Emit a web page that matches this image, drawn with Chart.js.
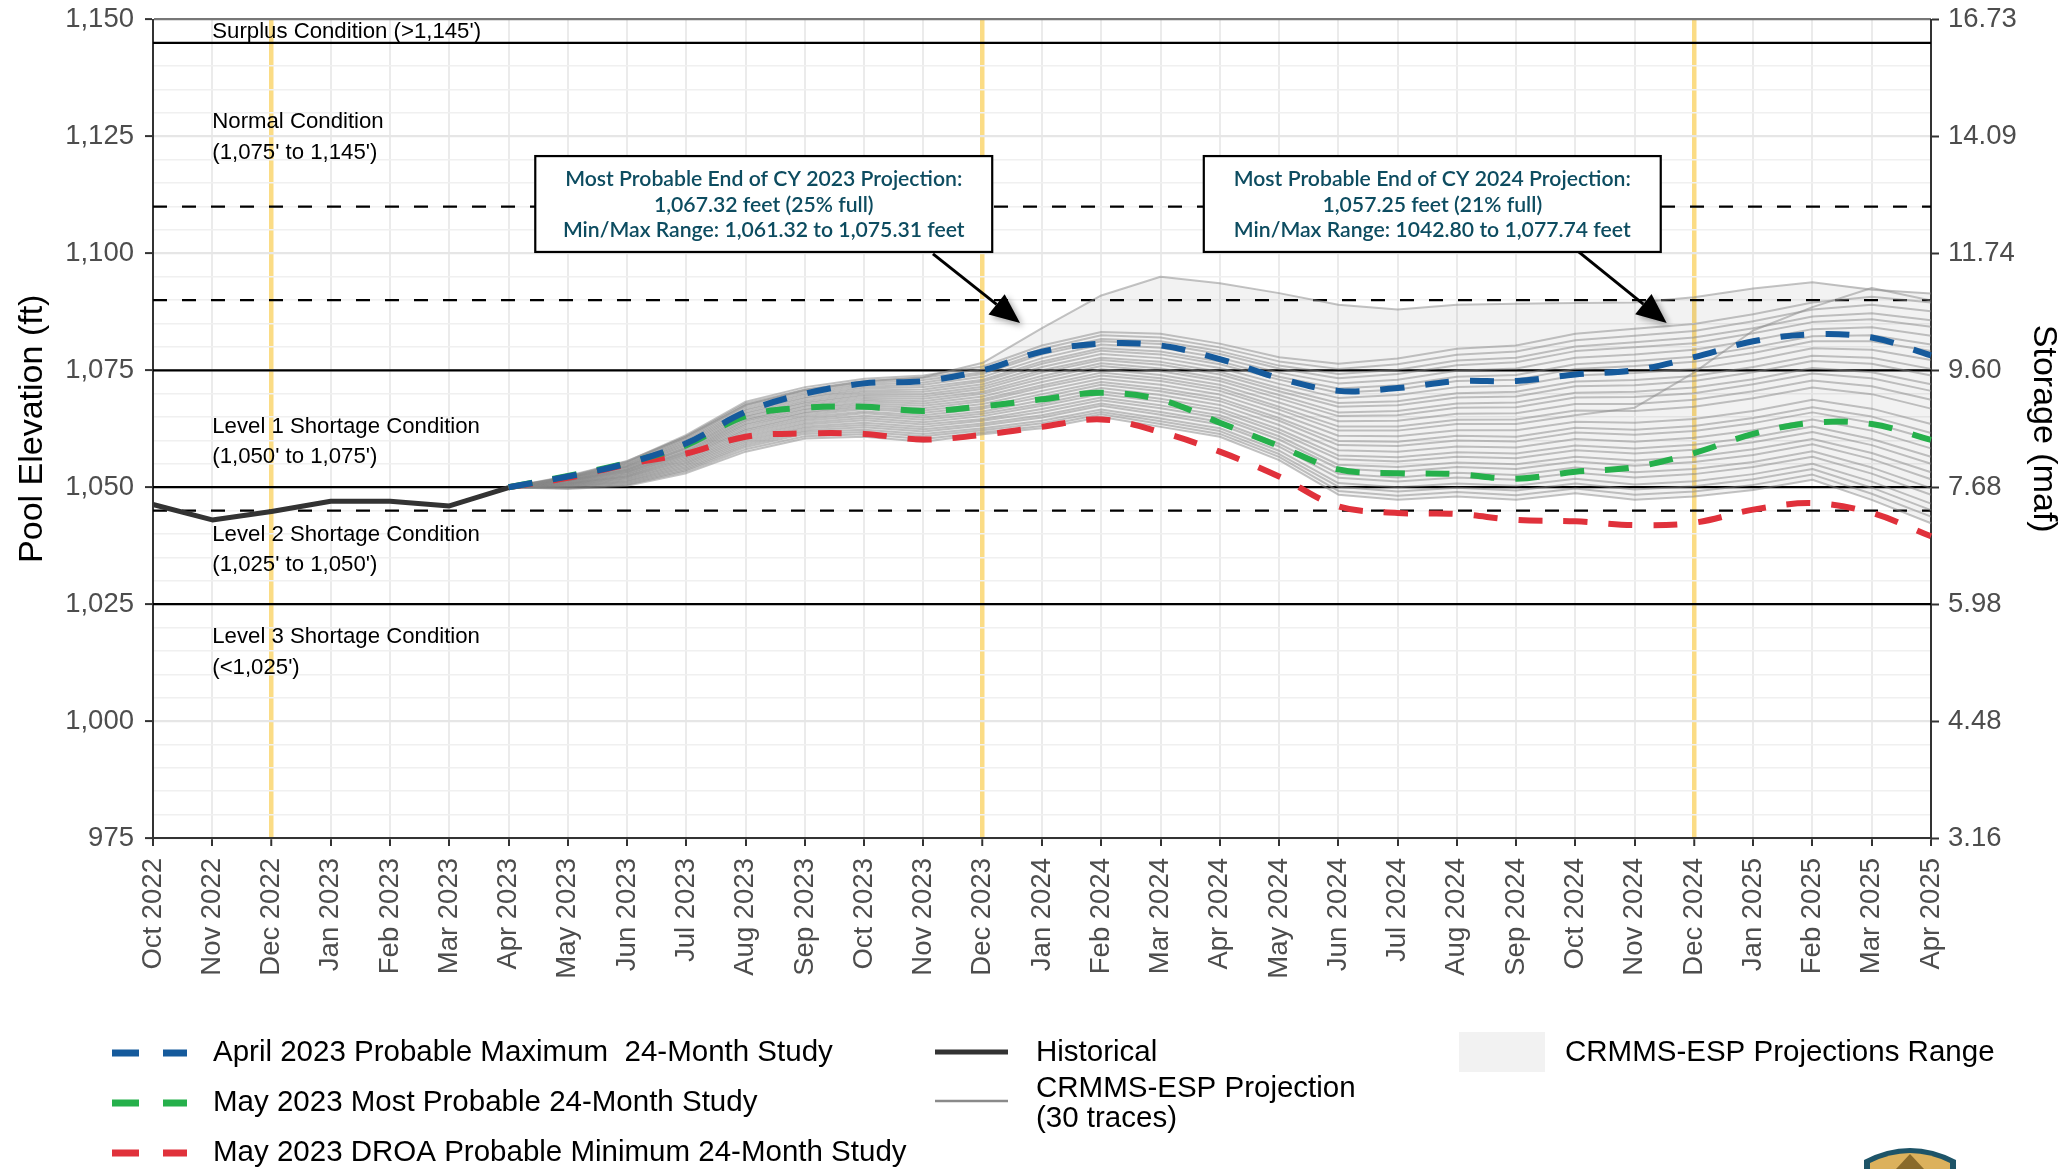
<!DOCTYPE html>
<html><head><meta charset="utf-8">
<script src="https://cdn.jsdelivr.net/npm/chart.js@4.4.1/dist/chart.umd.min.js"></script>
<style>html,body{margin:0;padding:0;background:#fff;}#wrap{width:2072px;height:1169px;position:relative;}</style>
</head><body><div id="wrap"><canvas id="c"></canvas></div>
<script>
const months = ['Oct 2022','Nov 2022','Dec 2022','Jan 2023','Feb 2023','Mar 2023','Apr 2023','May 2023','Jun 2023','Jul 2023','Aug 2023','Sep 2023','Oct 2023','Nov 2023','Dec 2023','Jan 2024','Feb 2024','Mar 2024','Apr 2024','May 2024','Jun 2024','Jul 2024','Aug 2024','Sep 2024','Oct 2024','Nov 2024','Dec 2024','Jan 2025','Feb 2025','Mar 2025','Apr 2025'];
// Historical (Oct 2022 - Apr 2023)
const historical = [1046.3, 1043.0, 1044.8, 1047.0, 1047.0, 1046.0, 1049.9];
// Projections (Apr 2023 - Apr 2025)
const probMax = [1050.0, 1052.3, 1055.1, 1059.4, 1066.1, 1070.0, 1072.2, 1072.7, 1075.0, 1079.0, 1080.7, 1080.3, 1077.4, 1073.3, 1070.6, 1071.2, 1072.7, 1072.7, 1074.1, 1075.0, 1077.8, 1081.2, 1082.7, 1082.0, 1078.2];
const mostProb = [1050.0, 1052.4, 1055.2, 1059.0, 1065.2, 1067.0, 1067.2, 1066.3, 1067.3, 1068.8, 1070.2, 1068.7, 1063.8, 1058.8, 1053.8, 1053.0, 1052.8, 1051.8, 1053.3, 1054.3, 1057.3, 1061.4, 1063.8, 1063.5, 1060.1];
const probMin = [1050.0, 1052.0, 1054.9, 1057.2, 1060.8, 1061.5, 1061.4, 1060.2, 1061.2, 1062.9, 1064.5, 1061.8, 1057.6, 1052.3, 1045.9, 1044.5, 1044.3, 1043.0, 1042.7, 1041.9, 1042.4, 1045.2, 1046.6, 1044.5, 1039.5];
// CRMMS-ESP traces: one list per month (Apr 2023 - Apr 2025), 30 trace values each
const traceByMonth = [
 [1050,1050,1050,1050,1050,1050,1050,1050,1050,1050,1050,1050,1050,1050,1050,1050,1050,1050,1050,1050,1050,1050,1050,1050,1050,1050,1050,1050,1050,1050],
 [1052.4,1052.3,1052.2,1052.1,1052.0,1052.0,1051.9,1051.8,1051.7,1051.6,1051.5,1051.5,1051.4,1051.3,1051.2,1051.1,1051.0,1050.9,1050.8,1050.8,1050.7,1050.6,1050.5,1050.4,1050.3,1050.2,1050.1,1050.0,1049.8,1049.6],
 [1055.6,1055.5,1055.3,1055.1,1054.9,1054.7,1054.5,1054.4,1054.2,1054.0,1053.8,1053.7,1053.5,1053.3,1053.2,1053.0,1052.8,1052.6,1052.4,1052.3,1052.1,1051.9,1051.7,1051.5,1051.3,1051.1,1050.9,1050.7,1050.5,1050.3],
 [1060.8,1061.2,1060.9,1060.6,1060.3,1060.0,1059.7,1059.4,1059.1,1058.8,1058.5,1058.3,1058.0,1057.7,1057.5,1057.2,1057.0,1056.7,1056.4,1056.1,1055.8,1055.5,1055.2,1054.9,1054.6,1054.3,1054.0,1053.7,1053.4,1053.0],
 [1067.6,1068.3,1067.9,1067.5,1067.1,1066.7,1066.4,1066.0,1065.7,1065.3,1065.0,1064.6,1064.3,1064.0,1063.6,1063.3,1062.9,1062.5,1062.2,1061.8,1061.4,1061.0,1060.6,1060.2,1059.8,1059.4,1059.0,1058.6,1058.1,1057.6],
 [1070.8,1071.4,1070.9,1070.5,1070.1,1069.7,1069.3,1069.0,1068.6,1068.2,1067.9,1067.5,1067.2,1066.8,1066.5,1066.1,1065.8,1065.4,1065.0,1064.6,1064.2,1063.8,1063.4,1063.0,1062.6,1062.2,1061.8,1061.4,1060.9,1060.4],
 [1072.6,1073.2,1072.7,1072.3,1071.9,1071.5,1071.1,1070.7,1070.3,1069.9,1069.5,1069.1,1068.7,1068.3,1067.9,1067.5,1067.1,1066.7,1066.2,1065.8,1065.3,1064.8,1064.3,1063.8,1063.3,1062.8,1062.3,1061.8,1061.3,1060.8],
 [1073.5,1073.9,1073.4,1072.9,1072.4,1071.9,1071.4,1070.9,1070.4,1069.9,1069.4,1068.9,1068.4,1067.9,1067.4,1066.9,1066.4,1065.9,1065.4,1064.9,1064.4,1063.9,1063.4,1062.9,1062.4,1061.9,1061.4,1060.9,1060.3,1059.7],
 [1076.6,1075.8,1075.2,1074.6,1074.2,1073.6,1073.0,1072.6,1072.0,1071.5,1071.0,1070.4,1070.0,1069.4,1068.8,1068.4,1067.8,1067.2,1066.8,1066.2,1065.7,1065.2,1064.6,1064.2,1063.6,1063.2,1062.6,1062.2,1061.7,1061.3],
 [1084.0,1080.3,1079.6,1078.9,1078.4,1077.6,1076.9,1076.4,1075.7,1075.0,1074.5,1073.8,1073.2,1072.5,1071.8,1071.3,1070.6,1069.9,1069.3,1068.6,1067.9,1067.4,1066.7,1066.1,1065.4,1064.9,1064.2,1063.7,1063.1,1062.6],
 [1091.0,1083.2,1082.5,1081.7,1081.2,1080.5,1079.7,1079.2,1078.5,1077.7,1077.2,1076.5,1075.9,1075.2,1074.5,1073.9,1073.2,1072.5,1071.9,1071.2,1070.5,1069.9,1069.2,1068.6,1067.9,1067.4,1066.6,1066.1,1065.6,1065.0],
 [1095.0,1082.8,1082.0,1081.2,1080.6,1079.8,1079.0,1078.4,1077.6,1076.8,1076.2,1075.4,1074.8,1074.0,1073.3,1072.7,1071.9,1071.1,1070.5,1069.7,1068.9,1068.3,1067.5,1066.9,1066.1,1065.5,1064.7,1064.1,1063.5,1062.9],
 [1093.6,1080.7,1079.9,1079.1,1078.5,1077.7,1076.9,1076.3,1075.5,1074.7,1074.1,1073.3,1072.7,1071.9,1071.2,1070.6,1069.8,1069.0,1068.4,1067.6,1066.8,1066.2,1065.4,1064.8,1064.0,1063.4,1062.6,1062.0,1061.4,1060.8],
 [1091.5,1077.8,1076.9,1076.0,1075.4,1074.5,1073.6,1073.0,1072.1,1071.2,1070.5,1069.7,1069.0,1068.1,1067.2,1066.6,1065.7,1064.8,1064.2,1063.3,1062.4,1061.7,1060.9,1060.2,1059.3,1058.7,1057.8,1057.1,1056.5,1055.8],
 [1089.0,1076.4,1075.3,1074.2,1073.3,1072.2,1071.1,1070.2,1069.1,1068.0,1067.2,1066.0,1065.2,1064.1,1063.0,1062.1,1061.0,1059.9,1059.0,1057.9,1056.8,1056.0,1054.8,1054.0,1052.9,1052.0,1050.9,1050.1,1049.2,1048.4],
 [1088.0,1077.5,1076.3,1075.1,1074.2,1073.0,1071.8,1070.9,1069.7,1068.4,1067.5,1066.3,1065.4,1064.2,1063.0,1062.1,1060.9,1059.7,1058.8,1057.6,1056.4,1055.5,1054.3,1053.3,1052.1,1051.2,1050.0,1049.1,1048.2,1047.3],
 [1089.0,1079.6,1078.3,1077.1,1076.1,1074.9,1073.6,1072.7,1071.4,1070.1,1069.2,1067.9,1067.0,1065.7,1064.4,1063.5,1062.2,1061.0,1060.0,1058.7,1057.5,1056.5,1055.3,1054.3,1053.1,1052.1,1050.8,1049.9,1049.0,1048.0],
 [1089.2,1080.3,1079.0,1077.7,1076.7,1075.4,1074.0,1073.0,1071.7,1070.4,1069.4,1068.1,1067.1,1065.8,1064.5,1063.5,1062.2,1060.8,1059.8,1058.5,1057.2,1056.2,1054.9,1053.9,1052.6,1051.6,1050.3,1049.3,1048.3,1047.3],
 [1089.4,1082.8,1081.4,1080.1,1079.1,1077.7,1076.3,1075.3,1073.9,1072.6,1071.6,1070.2,1069.2,1067.8,1066.4,1065.4,1064.0,1062.7,1061.7,1060.3,1058.9,1057.9,1056.5,1055.5,1054.2,1053.1,1051.8,1050.8,1049.7,1048.7],
 [1089.5,1083.9,1082.4,1081.0,1079.9,1078.4,1077.0,1075.9,1074.4,1072.9,1071.8,1070.4,1069.3,1067.8,1066.3,1067.0,1063.8,1062.3,1061.2,1059.7,1058.3,1057.2,1055.7,1054.6,1053.2,1052.1,1050.6,1049.5,1048.4,1047.3],
 [1090.6,1084.9,1083.4,1082.0,1080.8,1079.4,1077.9,1076.8,1075.3,1073.8,1072.7,1071.3,1070.1,1068.7,1067.2,1074.5,1064.6,1063.1,1062.0,1060.6,1059.1,1058.0,1056.5,1055.4,1053.9,1052.8,1051.3,1050.2,1049.1,1048.0],
 [1092.5,1087.0,1085.5,1084.0,1082.9,1081.4,1079.9,1078.7,1077.2,1075.7,1074.6,1073.1,1072.0,1070.5,1069.0,1083.5,1066.3,1064.8,1063.7,1062.2,1060.7,1059.6,1058.1,1056.9,1055.4,1054.3,1052.8,1051.7,1050.5,1049.4],
 [1093.8,1089.5,1088.0,1086.5,1085.3,1083.8,1082.3,1081.2,1079.7,1078.1,1077.0,1075.5,1074.3,1072.8,1071.3,1088.5,1068.7,1067.1,1066.0,1064.5,1063.0,1061.8,1060.3,1059.2,1057.7,1056.5,1055.0,1053.9,1052.7,1051.6],
 [1092.2,1090.7,1089.0,1087.2,1085.9,1084.2,1082.5,1081.2,1079.4,1077.7,1076.4,1074.6,1073.3,1071.6,1069.9,1092.6,1066.8,1065.1,1063.8,1062.1,1060.3,1059.0,1057.3,1056.0,1054.2,1052.9,1051.2,1049.9,1048.6,1047.3],
 [1091.4,1089.5,1087.6,1085.7,1084.3,1082.4,1080.5,1079.1,1077.2,1075.3,1073.9,1072.0,1070.6,1068.7,1066.8,1089.9,1063.5,1061.6,1060.2,1058.3,1056.5,1055.0,1053.2,1051.7,1049.8,1048.4,1046.5,1045.1,1043.7,1042.3]
];
const elevTickValues = [975, 1000, 1025, 1050, 1075, 1100, 1125, 1150];
const storageTickLabels = ['3.16', '4.48', '5.98', '7.68', '9.60', '11.74', '14.09', '16.73'];
const solidLevels = [1145, 1075, 1050, 1025];
const dashedLevels = [1110, 1090, 1045];
const conditionTexts = [["Surplus Condition (>1,145')"], ["Normal Condition", "(1,075' to 1,145')"], ["Level 1 Shortage Condition", "(1,050' to 1,075')"], ["Level 2 Shortage Condition", "(1,025' to 1,050')"], ["Level 3 Shortage Condition", "(<1,025')"]];
const box2023 = ["Most Probable End of CY 2023 Projection:", "1,067.32 feet (25% full)", "Min/Max Range: 1,061.32 to 1,075.31 feet"];
const box2024 = ["Most Probable End of CY 2024 Projection:", "1,057.25 feet (21% full)", "Min/Max Range: 1042.80 to 1,077.74 feet"];
const legendLabels = {max: 'April 2023 Probable Maximum  24-Month Study', most: 'May 2023 Most Probable 24-Month Study', min: 'May 2023 DROA Probable Minimum 24-Month Study', hist: 'Historical', trace: ['CRMMS-ESP Projection', '(30 traces)'], range: 'CRMMS-ESP Projections Range'};

const projOffset = 6;
const pad = new Array(projOffset).fill(null);
const nTraces = traceByMonth[0].length;
const COL = {blue: '#155a9c', green: '#25b04b', red: '#e0313b', hist: '#333333', trace: 'rgba(135,135,135,0.5)', range: 'rgba(0,0,0,0.05)', yellow: '#fbdc85', grid: '#ebebeb'};

const datasets = [];
datasets.push({label: legendLabels.max, data: pad.concat(probMax), borderColor: COL.blue, borderWidth: 6, borderDash: [24, 21], tension: 0.35, order: 0});
datasets.push({label: legendLabels.most, data: pad.concat(mostProb), borderColor: COL.green, borderWidth: 6, borderDash: [24, 21], tension: 0.35, order: 0});
datasets.push({label: legendLabels.min, data: pad.concat(probMin), borderColor: COL.red, borderWidth: 6, borderDash: [24, 21], tension: 0.35, order: 0});
datasets.push({label: legendLabels.hist, data: historical.concat(new Array(months.length - historical.length).fill(null)), borderColor: COL.hist, borderWidth: 5, order: 1});
for (let k = 0; k < nTraces; k++) {
  datasets.push({label: 'trace' + (k + 1), data: pad.concat(traceByMonth.map(col => col[k])), borderColor: COL.trace, borderWidth: 2, order: 2});
}
const envMax = pad.concat(traceByMonth.map(col => Math.max(...col)));
const envMin = pad.concat(traceByMonth.map(col => Math.min(...col)));
datasets.push({label: 'rangeMax', data: envMax, borderColor: 'rgba(0,0,0,0)', borderWidth: 0, backgroundColor: COL.range, fill: '+1', order: 3});
datasets.push({label: 'rangeMin', data: envMin, borderColor: 'rgba(0,0,0,0)', borderWidth: 0, fill: false, order: 3});

const gridTicks = [];
for (let v = 975; v <= 1150; v += 5) gridTicks.push(v);
const fmt = v => v.toLocaleString('en-US');

const FONT = "'Liberation Sans', Arial, sans-serif";

const decor = {
  id: 'decor',
  beforeDatasetsDraw(chart) {
    const ctx = chart.ctx, a = chart.chartArea, y = chart.scales.y, x = chart.scales.x;
    ctx.save();
    ctx.strokeStyle = '#000'; ctx.lineWidth = 2.2;
    solidLevels.forEach(v => { const py = y.getPixelForValue(v); ctx.beginPath(); ctx.moveTo(a.left, py); ctx.lineTo(a.right, py); ctx.stroke(); });
    ctx.setLineDash([14, 15]);
    dashedLevels.forEach(v => { const py = y.getPixelForValue(v); ctx.beginPath(); ctx.moveTo(a.left, py); ctx.lineTo(a.right, py); ctx.stroke(); });
    ctx.setLineDash([]);
    ctx.fillStyle = '#000'; ctx.font = '22.2px ' + FONT; ctx.textAlign = 'left'; ctx.textBaseline = 'middle';
    const tx = x.getPixelForValue(1);
    const labelElev = [[1147.3], [1128.1, 1121.5], [1062.9, 1056.4], [1039.8, 1033.4], [1018.0, 1011.3]];
    conditionTexts.forEach((lines, i) => lines.forEach((t, j) => ctx.fillText(t, tx, y.getPixelForValue(labelElev[i][j]))));
    ctx.restore();
  },
  afterDatasetsDraw(chart) {
    const ctx = chart.ctx, y = chart.scales.y, x = chart.scales.x;
    const drawBox = (lines, i0, i1, arrowFrom, arrowTo) => {
      const l = x.getPixelForValue(i0), r = x.getPixelForValue(i1);
      const t = y.getPixelForValue(1120.8), b = y.getPixelForValue(1100.3);
      ctx.save();
      const x0 = x.getPixelForValue(arrowFrom[0]), y0 = y.getPixelForValue(arrowFrom[1]);
      const x1 = x.getPixelForValue(arrowTo[0]), y1 = y.getPixelForValue(arrowTo[1]);
      const ang = Math.atan2(y1 - y0, x1 - x0), hl = 30, hw = 13;
      const bx = x1 - hl * Math.cos(ang), by = y1 - hl * Math.sin(ang);
      ctx.strokeStyle = '#000'; ctx.lineWidth = 3;
      ctx.beginPath(); ctx.moveTo(x0, y0); ctx.lineTo(bx, by); ctx.stroke();
      ctx.shadowColor = 'rgba(0,0,0,0.35)'; ctx.shadowBlur = 6; ctx.shadowOffsetX = 3; ctx.shadowOffsetY = 3;
      ctx.fillStyle = '#000';
      ctx.beginPath(); ctx.moveTo(x1, y1);
      ctx.lineTo(bx + hw * Math.sin(ang), by - hw * Math.cos(ang));
      ctx.lineTo(bx - hw * Math.sin(ang), by + hw * Math.cos(ang));
      ctx.closePath(); ctx.fill();
      ctx.shadowColor = 'rgba(0,0,0,0)';
      ctx.fillStyle = '#fff'; ctx.fillRect(l, t, r - l, b - t);
      ctx.strokeStyle = '#000'; ctx.lineWidth = 2.2; ctx.strokeRect(l, t, r - l, b - t);
      ctx.fillStyle = '#0d4c60'; ctx.font = '600 21.2px Lato, sans-serif'; ctx.textAlign = 'center'; ctx.textBaseline = 'middle';
      const cx = (l + r) / 2, h = b - t;
      lines.forEach((s, k) => ctx.fillText(s, cx, t + h * (0.245 + 0.262 * k)));
      ctx.restore();
    };
    drawBox(box2023, 6.45, 14.16, [13.16, 1099.9], [14.63, 1085.1]);
    drawBox(box2024, 17.73, 25.44, [24.03, 1100.6], [25.54, 1085.1]);
  },
  afterDraw(chart) {
    const ctx = chart.ctx;
    ctx.save();
    ctx.font = '29.5px ' + FONT; ctx.textBaseline = 'middle'; ctx.textAlign = 'left'; ctx.fillStyle = '#000';
    const rows = [[COL.blue, legendLabels.max, 1053], [COL.green, legendLabels.most, 1103], [COL.red, legendLabels.min, 1153]];
    rows.forEach(([c, t, yy]) => {
      ctx.fillStyle = c; ctx.fillRect(112, yy - 3.5, 27, 7); ctx.fillRect(163, yy - 3.5, 24, 7);
      ctx.fillStyle = '#000'; ctx.fillText(t, 213, yy);
    });
    ctx.strokeStyle = COL.hist; ctx.lineWidth = 5; ctx.beginPath(); ctx.moveTo(935, 1052); ctx.lineTo(1008, 1052); ctx.stroke();
    ctx.fillText(legendLabels.hist, 1036, 1053);
    ctx.strokeStyle = '#8a8a8a'; ctx.lineWidth = 2.5; ctx.beginPath(); ctx.moveTo(935, 1101); ctx.lineTo(1008, 1101); ctx.stroke();
    ctx.fillText(legendLabels.trace[0], 1036, 1089); ctx.fillText(legendLabels.trace[1], 1036, 1119);
    ctx.fillStyle = '#f2f2f2'; ctx.fillRect(1459, 1032, 86, 40);
    ctx.fillStyle = '#000'; ctx.fillText(legendLabels.range, 1565, 1053);
    ctx.beginPath(); ctx.moveTo(1864, 1169); ctx.lineTo(1864, 1160); ctx.quadraticCurveTo(1910, 1136, 1956, 1160); ctx.lineTo(1956, 1169); ctx.closePath();
    ctx.fillStyle = '#1e5468'; ctx.fill();
    ctx.beginPath(); ctx.moveTo(1870, 1169); ctx.lineTo(1870, 1163); ctx.quadraticCurveTo(1910, 1143, 1950, 1163); ctx.lineTo(1950, 1169); ctx.closePath();
    ctx.fillStyle = '#dcb15c'; ctx.fill();
    ctx.beginPath(); ctx.moveTo(1896, 1169); ctx.lineTo(1910, 1154); ctx.lineTo(1924, 1169); ctx.closePath(); ctx.fillStyle = '#8a6a2a'; ctx.fill();
    ctx.restore();
  }
};

const yGridColor = c => (c.tick && c.tick.value === 1150) ? '#777' : (c.tick && c.tick.value % 25 === 0 ? '#e6e6e6' : '#f0f0f0');
const yGridWidth = c => (c.tick && c.tick.value % 25 === 0) ? 2.2 : 1.6;
const yTickColor = c => (c.tick && c.tick.value % 25 === 0) ? '#333' : 'rgba(0,0,0,0)';

new Chart(document.getElementById('c'), {
  type: 'line',
  data: {labels: months, datasets},
  plugins: [decor],
  options: {
    responsive: true, maintainAspectRatio: false, devicePixelRatio: 1, animation: false,
    layout: {padding: {top: 19.5, left: 0, right: 0, bottom: 0}},
    elements: {point: {radius: 0}, line: {borderCapStyle: 'butt', borderJoinStyle: 'round'}},
    plugins: {legend: {display: false}, tooltip: {enabled: false}, title: {display: false}, filler: {drawTime: 'beforeDatasetsDraw', propagate: false}},
    scales: {
      x: {
        type: 'category', offset: false,
        grid: {color: c => (months[c.index] || '').startsWith('Dec') ? COL.yellow : COL.grid, lineWidth: c => (months[c.index] || '').startsWith('Dec') ? 4.5 : 2, tickColor: '#333', tickLength: 8, tickWidth: 2},
        border: {color: '#333', width: 2},
        ticks: {autoSkip: false, maxRotation: 90, minRotation: 90, padding: 12, color: '#4d4d4d', font: {family: FONT, size: 27.5}},
        afterFit: s => { s.height = 331; s.paddingLeft = 0; s.paddingRight = 0; }
      },
      y: {
        position: 'left', min: 975, max: 1150,
        afterBuildTicks: s => { s.ticks = gridTicks.map(v => ({value: v})); },
        ticks: {autoSkip: false, padding: 11, color: '#4d4d4d', font: {family: FONT, size: 27.5}, callback: v => (v % 25 === 0 ? fmt(v) : '')},
        grid: {color: yGridColor, lineWidth: yGridWidth, tickColor: yTickColor, tickLength: 8, tickWidth: 2},
        border: {color: '#333', width: 2},
        title: {display: true, text: 'Pool Elevation (ft)', color: '#000', font: {family: FONT, size: 34}, padding: {top: 12.6, bottom: 0}},
        afterFit: s => { s.width = 153; s.paddingTop = 0; s.paddingBottom = 0; }
      },
      y2: {
        position: 'right', min: 975, max: 1150,
        afterBuildTicks: s => { s.ticks = gridTicks.map(v => ({value: v})); },
        ticks: {autoSkip: false, padding: 9, color: '#4d4d4d', font: {family: FONT, size: 27.5}, callback: v => { const i = elevTickValues.indexOf(v); return i >= 0 ? storageTickLabels[i] : ''; }},
        grid: {drawOnChartArea: false, tickColor: yTickColor, tickLength: 8, tickWidth: 2},
        border: {color: '#333', width: 2},
        title: {display: true, text: 'Storage (maf)', color: '#000', font: {family: FONT, size: 34}, padding: {top: 8.6, bottom: 0}},
        afterFit: s => { s.width = 141; s.paddingTop = 0; s.paddingBottom = 0; }
      }
    }
  }
});
</script></body></html>
